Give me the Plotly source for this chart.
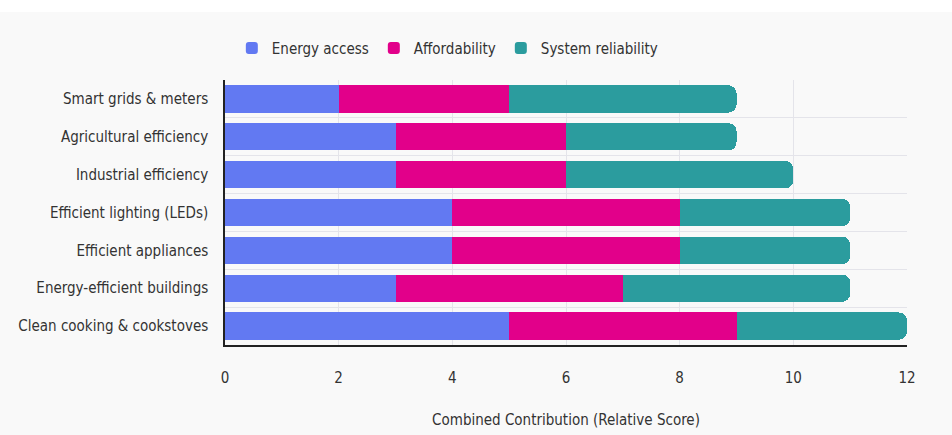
import plotly.graph_objects as go

# Efficiency measures, listed bottom-to-top as drawn on the category axis
measures = [
    "Clean cooking & cookstoves",
    "Energy-efficient buildings",
    "Efficient appliances",
    "Efficient lighting (LEDs)",
    "Industrial efficiency",
    "Agricultural efficiency",
    "Smart grids & meters",
]
energy_access = [5, 3, 4, 4, 3, 3, 2]
affordability = [4, 4, 4, 4, 3, 3, 3]
system_reliability = [3, 4, 3, 3, 4, 3, 4]

series = [
    ("Energy access", energy_access, "#6279F2"),
    ("Affordability", affordability, "#E2008A"),
    ("System reliability", system_reliability, "#2B9C9E"),
]

FONT = "DejaVu Sans Condensed, Open Sans, sans-serif"

fig = go.Figure()
for name, vals, color in series:
    fig.add_trace(go.Bar(
        y=measures, x=vals, name=name, orientation="h",
        marker=dict(color=color, line=dict(width=0)),
    ))

# white strip across the very top of the page
fig.add_shape(type="rect", xref="paper", yref="paper",
              x0=-1, x1=2, y0=1.2566, y1=1.31,
              fillcolor="white", line=dict(width=0), layer="below")

fig.update_layout(
    width=952, height=435,
    margin=dict(l=225, r=45, t=80, b=90),
    barmode="stack", bargap=0.28, barcornerradius=8,
    paper_bgcolor="#f9f9f9", plot_bgcolor="#f9f9f9",
    font=dict(family=FONT, color="#333333", size=15),
    showlegend=True,
    legend=dict(orientation="h", x=0.326, xanchor="center", y=1.12, yanchor="middle",
                font=dict(size=15, color="#333333"), traceorder="normal",
                itemwidth=30, bgcolor="rgba(0,0,0,0)"),
    xaxis=dict(range=[0, 12], dtick=2, showgrid=True, gridcolor="#e4e4ea",
               zeroline=False, showline=True, linecolor="#222222", linewidth=1.5,
               ticks="", ticklabelstandoff=18, automargin=False,
               tickfont=dict(size=15, color="#333333"),
               title=dict(text="Combined Contribution (Relative Score)",
                          font=dict(size=15, color="#333333"), standoff=29)),
    yaxis=dict(showgrid=True, gridcolor="#e4e4ea", tickson="boundaries",
               showline=True, linecolor="#222222", linewidth=1.5,
               ticks="", ticklabelstandoff=12, automargin=False,
               tickfont=dict(size=15, color="#333333")),
)

fig.write_html("out.html")
